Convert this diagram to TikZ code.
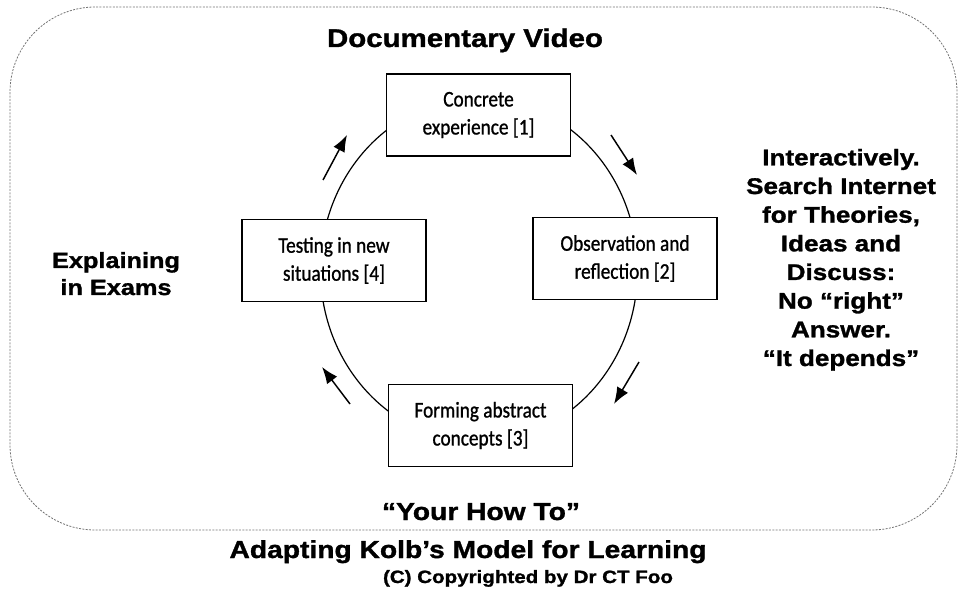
\documentclass[tikz,border=0pt]{standalone}
\usepackage{fontspec}
\usetikzlibrary{arrows.meta}
\newfontfamily\headfont[FakeStretch=1.15,FakeBold=1.3]{Liberation Sans}
\newfontfamily\boxfont[FakeStretch=0.86,FakeBold=1]{Carlito}

\begin{document}
\begin{tikzpicture}[x=0.75pt,y=-0.75pt,
  stage/.style={draw=black, line width=1.2pt, fill=white,
    minimum width=138pt, minimum height=61.5pt, inner sep=0pt,
    align=center, font=\boxfont\fontsize{16.8}{21}\selectfont},
  cue/.style={inner sep=0pt, align=center, anchor=base},
  turn/.style={line width=1.1pt, -{Latex[length=12.5pt,width=9.5pt]}},
  outline/.style={draw=black!55, line width=0.6pt,
    dash pattern=on 1.5pt off 1pt, rounded corners=64pt},
]
\useasboundingbox (0,0) rectangle (960,591);

% outer frame
\draw[outline] (10,7) rectangle (957,530);

% learning cycle
\draw[line width=0.9pt] (479,270) ellipse [x radius=118.9pt, y radius=129pt];

\node[stage] (ce) at (478.5,115)   {Concrete\\experience [1]};
\node[stage] (or) at (625,258.5)   {Observation and\\reflection [2]};
\node[stage] (fa) at (480.5,425.5) {Forming abstract\\concepts [3]};
\node[stage] (tn) at (334,260.5)   {Testing in new\\situations [4]};

% direction of travel round the cycle
\coordinate (t1a) at (611,135); \coordinate (t1b) at (637,175);
\coordinate (t2a) at (639,362); \coordinate (t2b) at (614,404);
\coordinate (t3a) at (350,404); \coordinate (t3b) at (322,367);
\coordinate (t4a) at (323,180); \coordinate (t4b) at (347,135);
\draw[turn] (t1a) -- (t1b);
\draw[turn] (t2a) -- (t2b);
\draw[turn] (t3a) -- (t3b);
\draw[turn] (t4a) -- (t4b);

% labels round the cycle (base = baseline of the last line)
\node[cue, font=\headfont\bfseries\fontsize{19.2}{23}\selectfont] (top) at (465,47) {Documentary Video};
\node[cue, font=\headfont\bfseries\fontsize{17}{21.5}\selectfont] (right) at (841,366)
  {Interactively.\\Search Internet\\for Theories,\\Ideas and\\Discuss:\\No “right”\\Answer.\\“It depends”};
\node[cue, font=\headfont\bfseries\fontsize{16.5}{20.25}\selectfont] (left) at (116,295)
  {Explaining\\in Exams};
\node[cue, font=\headfont\bfseries\fontsize{18.4}{22}\selectfont] (bottom) at (481,520) {“Your How To”};

% caption
\node[cue, font=\headfont\bfseries\fontsize{18.4}{22}\selectfont] (title) at (468,558)
  {Adapting Kolb’s Model for Learning};
\node[cue, font=\headfont\bfseries\fontsize{13.4}{16}\selectfont] (credit) at (528,583)
  {(C) Copyrighted by Dr CT Foo};
\end{tikzpicture}
\end{document}
